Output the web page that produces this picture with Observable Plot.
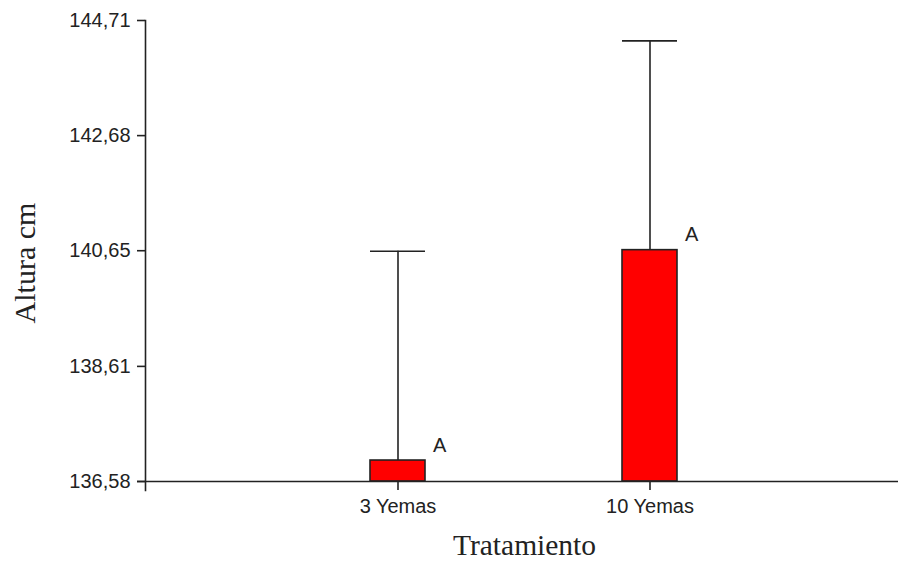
<!DOCTYPE html>
<html><head><meta charset="utf-8">
<script src="https://cdn.jsdelivr.net/npm/d3@7"></script>
<script src="https://cdn.jsdelivr.net/npm/@observablehq/plot@0.6"></script>
<style>
html,body{margin:0;padding:0;background:#fff;}
</style></head><body><div id="chart"></div>
<script>
const categories = ["3 Yemas", "10 Yemas"];
const means = [136.95, 140.66];
const upper = [140.64, 144.35];
const letters = ["A", "A"];
const yTicks = [136.58, 138.61, 140.65, 142.68, 144.71];
const yDomain = [136.58, 144.71];
const xLabel = "Tratamiento";
const yLabel = "Altura cm";

const data = categories.map((c, i) => ({cat: c, mean: means[i], upper: upper[i], letter: letters[i]}));
const fmt = d => d.toFixed(2).replace(".", ",");
const sans = "'Liberation Sans', Arial, sans-serif";
const serif = "'Liberation Serif', 'Times New Roman', serif";
const ink = "#222";

const chart = Plot.plot({
  width: 898, height: 563,
  marginLeft: 145, marginRight: -5, marginTop: 20, marginBottom: 82,
  style: {background: "#fff", color: ink, fontFamily: sans, fontSize: "20px", overflow: "visible"},
  x: {domain: categories, paddingInner: 0.78, paddingOuter: 0.89, label: null, axis: null},
  y: {domain: yDomain, label: null, axis: null},
  marks: [
    Plot.barY(data, {x: "cat", y1: yDomain[0], y2: "mean", fill: "#ff0000", stroke: ink, strokeWidth: 1.6}),
    Plot.ruleX(data, {x: "cat", y1: "mean", y2: "upper", stroke: ink, strokeWidth: 1.6}),
    Plot.tickY(data, {x: "cat", y: "upper", stroke: ink, strokeWidth: 1.6}),
    Plot.text(data, {x: "cat", y: "mean", text: "letter", textAnchor: "start", lineAnchor: "bottom", dx: 35, dy: -9, fontSize: 20, fill: ink}),
    Plot.ruleY([yDomain[0]], {stroke: ink, strokeWidth: 1.6, insetLeft: -8}),
    Plot.frame({anchor: "left", stroke: ink, strokeWidth: 1.6, insetBottom: -9}),
    Plot.axisY({ticks: yTicks, tickFormat: fmt, tickSize: 8, tickPadding: 7, label: null, fontSize: 20, stroke: ink, strokeWidth: 1.6}),
    Plot.axisX({tickSize: 9, tickPadding: 8, label: null, fontSize: 20, stroke: ink, strokeWidth: 1.6, style: {letterSpacing: "0.6px"}}),
    Plot.text([yLabel], {frameAnchor: "left", textAnchor: "middle", lineAnchor: "middle", rotate: -90, dx: -120, dy: 12, fontFamily: serif, fontSize: 30, fill: ink}),
    Plot.text([xLabel], {frameAnchor: "bottom", textAnchor: "middle", dy: 73, fontFamily: serif, fontSize: 29.5, fill: ink})
  ]
});
document.getElementById("chart").appendChild(chart);
</script>
</body></html>
